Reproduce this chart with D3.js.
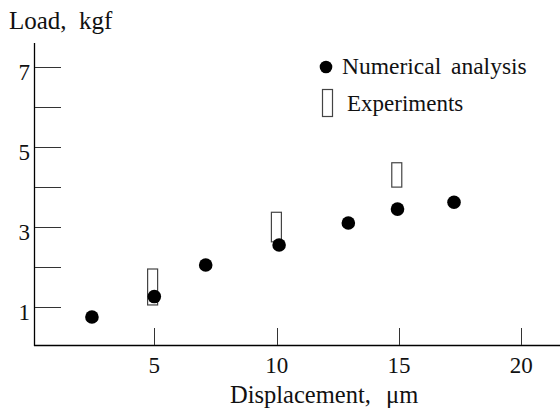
<!DOCTYPE html>
<html>
<head>
<meta charset="utf-8">
<script src="https://cdn.jsdelivr.net/npm/d3@7"></script>
</head>
<body style="margin:0;background:#fff">
<svg id="chart" width="560" height="413" style="display:block"></svg>
<script>
// numerical analysis points
const numX = [2.45, 5.0, 7.1, 10.1, 12.93, 14.94, 17.25]
const numY = [0.74, 1.25, 2.04, 2.54, 3.09, 3.44, 3.61]

// experiments: load range at each displacement
const expX = [4.93, 9.99, 14.91]
const expLow = [1.04, 2.62, 3.99]
const expHigh = [1.94, 3.36, 4.6]

const xTicks = [5, 10, 15, 20]
const yTicks = [1, 2, 3, 4, 5, 6, 7]
const yLabels = [1, 3, 5, 7]

const width = 560, height = 413

const svg = d3.select('#chart')

const label = (sel, size) => sel
    .style('font-family', "'Liberation Serif', monospace")
    .attr('font-size', size)
    .attr('fill', '#111')

// words placed one by one, the gaps in the original are wide
const words = (parts, yPos, size) => {
    parts.forEach(([t, xPos]) => {
        svg.append('text')
            .attr('x', xPos).attr('y', yPos)
            .call(label, size)
            .text(t)
    })
}

const x = d3.scaleLinear()
    .domain([0, 21.5])
    .range([32, 558])

const y = d3.scaleLinear()
    .domain([0, 7.5])
    .range([346.5, 46.9])

const axisX = 34, axisY = 345

// axes lines
svg.append('line')
    .attr('x1', axisX + 0.5).attr('x2', axisX + 0.5)
    .attr('y1', 43).attr('y2', axisY + 1)
    .attr('stroke', '#000').attr('stroke-width', 1.3)

svg.append('line')
    .attr('x1', axisX).attr('x2', width)
    .attr('y1', axisY + 0.5).attr('y2', axisY + 0.5)
    .attr('stroke', '#000').attr('stroke-width', 1.3)

// y ticks, drawn inward
svg.selectAll('.ytick')
    .data(yTicks)
    .enter()
    .append('line')
    .attr('class', 'ytick')
    .attr('x1', axisX + 1).attr('x2', 61)
    .attr('y1', d => Math.round(y(d)) + 0.5)
    .attr('y2', d => Math.round(y(d)) + 0.5)
    .attr('stroke', '#333')

svg.selectAll('.ylab')
    .data(yLabels)
    .enter()
    .append('text')
    .attr('class', 'ylab')
    .attr('x', 30)
    .attr('y', d => y(d) + 13)
    .attr('text-anchor', 'end')
    .call(label, 23)
    .text(d => d)

// x ticks, drawn inward
svg.selectAll('.xtick')
    .data(xTicks)
    .enter()
    .append('line')
    .attr('class', 'xtick')
    .attr('x1', d => Math.round(x(d)) + 0.5)
    .attr('x2', d => Math.round(x(d)) + 0.5)
    .attr('y1', axisY).attr('y2', 328)
    .attr('stroke', '#333')

svg.selectAll('.xlab')
    .data(xTicks)
    .enter()
    .append('text')
    .attr('class', 'xlab')
    .attr('x', d => x(d))
    .attr('y', 373)
    .attr('text-anchor', 'middle')
    .call(label, 23)
    .text(d => d)

// axis titles
words([['Load,', 9], ['kgf', 79]], 29, 25)
words([['Displacement,', 230], ['μm', 386]], 403, 24.5)

// experiments
svg.selectAll('.exp')
    .data(expX)
    .enter()
    .append('rect')
    .attr('class', 'exp')
    .attr('x', d => x(d) - 5)
    .attr('width', 10)
    .attr('y', (d, i) => y(expHigh[i]))
    .attr('height', (d, i) => y(expLow[i]) - y(expHigh[i]))
    .attr('fill', '#fff')
    .attr('stroke', '#444')
    .attr('stroke-width', 1.2)

// numerical analysis
svg.selectAll('.num')
    .data(numX)
    .enter()
    .append('circle')
    .attr('class', 'num')
    .attr('cx', d => x(d))
    .attr('cy', (d, i) => y(numY[i]))
    .attr('r', 6.8)
    .attr('fill', '#000')

// legend
svg.append('circle')
    .attr('cx', 326).attr('cy', 67)
    .attr('r', 6.3)
    .attr('fill', '#000')

words([['Numerical', 342], ['analysis', 451]], 73.5, 23.5)

svg.append('rect')
    .attr('x', 322.5).attr('y', 89.5)
    .attr('width', 10).attr('height', 27)
    .attr('fill', '#fff')
    .attr('stroke', '#444')
    .attr('stroke-width', 1.2)

words([['Experiments', 347]], 111, 23)
</script>
</body>
</html>
